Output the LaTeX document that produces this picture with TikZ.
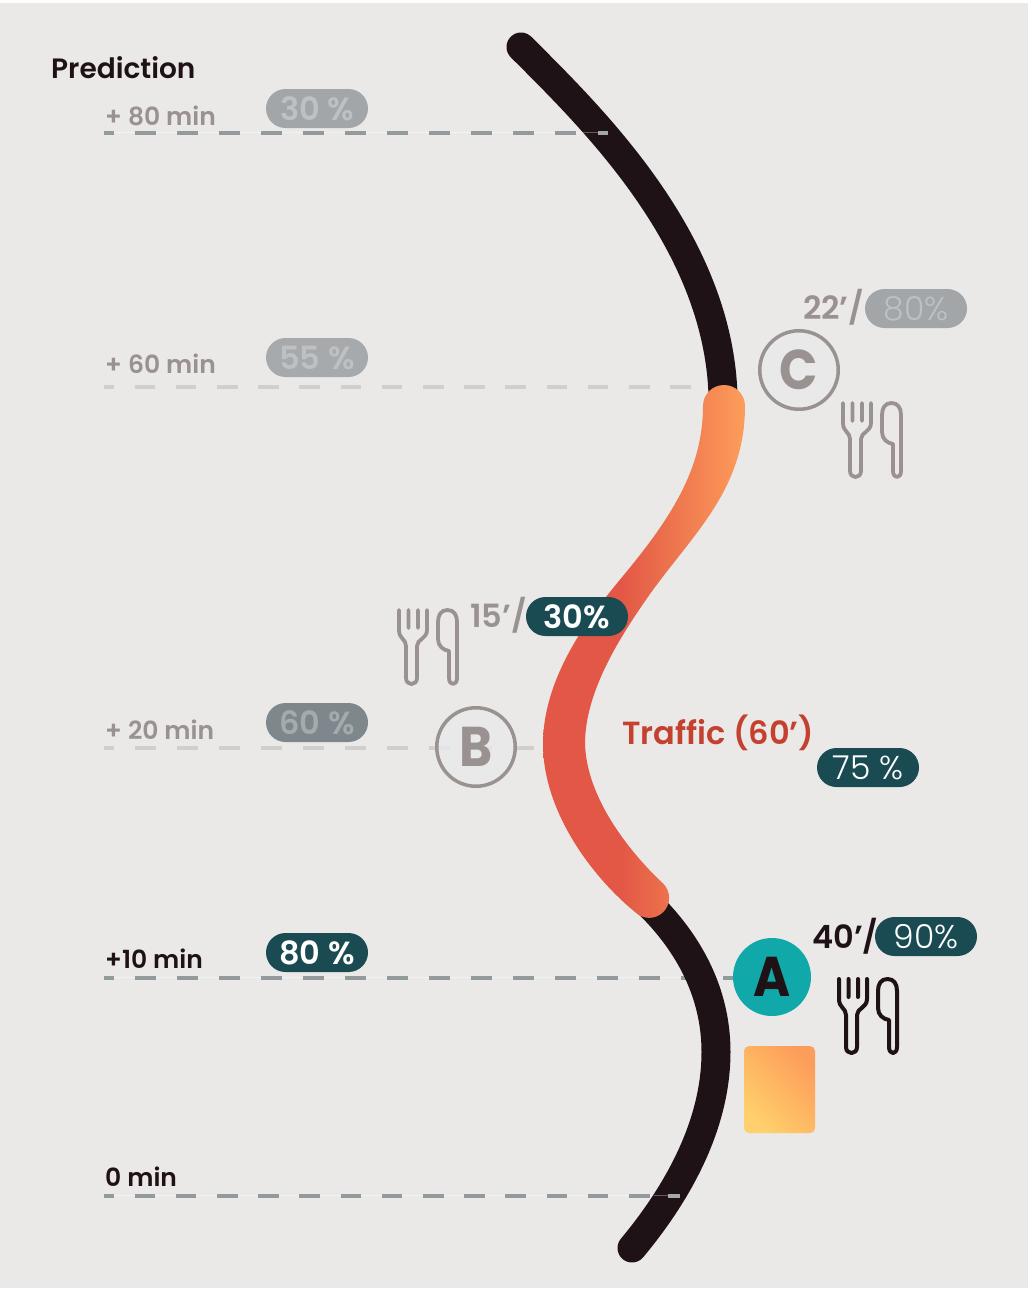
\documentclass[tikz,border=0pt]{standalone}
\usepackage{fontspec}
\setmainfont{Poppins}
\newfontfamily\fmed{Poppins SemiBold}
\newfontfamily\fbold[FakeStretch=0.9]{Poppins Bold}
\newfontfamily\flight{Poppins Light}
\definecolor{bg}{HTML}{EAE9E7}
\definecolor{ink}{HTML}{1F1216}
\definecolor{taupe}{HTML}{9A9290}
\definecolor{teal}{HTML}{1A4A52}
\definecolor{aqua}{HTML}{10A8A8}
\definecolor{dashdark}{HTML}{939A9C}
\definecolor{dashlite}{HTML}{D0CFCD}
\definecolor{pillgrey}{HTML}{A2A6A9}
\definecolor{pillmid}{HTML}{7D878C}
\definecolor{traffic}{HTML}{C4402F}
\definecolor{red1}{HTML}{E25745}
\definecolor{orange1}{HTML}{FD9D5A}
\definecolor{yellow1}{HTML}{FFD06B}
\definecolor{stopfill}{HTML}{E9EAEC}
\pgfdeclarehorizontalshading{redorange}{100bp}{color(0bp)=(red1);color(25bp)=(red1);color(44bp)=(red1);color(75bp)=(orange1);color(100bp)=(orange1)}
\tikzset{
  x=1pt,y=-1pt,
  road/.style={draw=ink,line width=29pt,line cap=round},
  guide/.style={line width=4pt,dash pattern=on 21pt off 21pt,dash phase=11pt},
  guidetight/.style={line width=4pt,dash pattern=on 20.6pt off 20.6pt,dash phase=10.6pt},
  hair/.style={line width=.8pt,draw=white,opacity=.45},
  pill/.style={rounded corners=19.5pt,minimum width=102pt,minimum height=39pt,inner sep=0pt},
  lbl/.style={anchor=base west,inner sep=0pt,font=\fmed\fontsize{25}{25}\selectfont},
  pilltext/.style={font=\fmed\fontsize{32}{33}\selectfont},
  pilllight/.style={font=\flight\fontsize{33}{33}\selectfont},
  stop/.style={circle,minimum size=78.5pt,inner sep=0pt,font=\fbold\fontsize{56}{56}\selectfont},
  hollow/.style={stop,draw=taupe,line width=3.5pt,fill=stopfill,fill opacity=.75,text opacity=1,text=taupe},
  time/.style={anchor=base west,inner sep=0pt,font=\fmed\fontsize{32}{32}\selectfont},
  cutlery/.pic={
    \draw[pic actions,line cap=round,line join=round,fill=none]
      (0,0) -- (0,20) .. controls (0,29) and (7,29) .. (7,36) -- (7,68)
      .. controls (7,76) and (18,76) .. (18,68) -- (18,36)
      .. controls (18,29) and (28,29) .. (28,20) -- (28,0)
      (9.5,0) -- (9.5,18) (19,0) -- (19,18)
      (48.5,0) .. controls (42,0) and (39,5) .. (39,12) -- (39,29)
      .. controls (39,36) and (44,40) .. (50,41) -- (50,68)
      .. controls (50,76) and (58,76) .. (58,68) -- (58,12)
      .. controls (58,5) and (55,0) .. (48.5,0) -- cycle;
  }
}
\begin{document}
\begin{tikzpicture}
\useasboundingbox (0,0) rectangle (1028,1291);
\fill[white] (0,0) rectangle (1028,1291);
\fill[bg] (0,3) rectangle (1028,1288);

% guides
\coordinate (g1a) at (104,132.7); \coordinate (g1b) at (608,132.7);
\coordinate (g2a) at (104,386.7); \coordinate (g2b) at (710,386.7);
\coordinate (g3a) at (104,747.7); \coordinate (g3b) at (535,747.7);
\coordinate (g4a) at (104,977.7); \coordinate (g4b) at (733,977.7);
\coordinate (g5a) at (104,1195.7); \coordinate (g5b) at (680,1195.7);
\draw[hair] (g1a) -- (g1b);
\draw[hair] (g4a) -- (g4b);
\draw[hair] (g5a) -- (g5b);
\draw[guide,dashdark] (g1a) -- (g1b);
\draw[guidetight,dashlite] (g2a) -- (g2b);
\draw[guide,dashlite] (g3a) -- (g3b);
\draw[guide,dashdark] (g4a) -- (g4b);
\draw[guidetight,dashdark] (g5a) -- (g5b);

% road
\draw[road] (521,47) .. controls (592,118) and (718,240) .. (723,395);
\draw[road] (650,905) .. controls (695,950) and (716,1000) .. (716,1052)
  .. controls (716,1130) and (672,1200) .. (632,1248);
\shade[shading=redorange]
  (703,406) .. controls (703,470) and (670,520) .. (618,582)
  .. controls (585,622) and (543,680) .. (543,744)
  .. controls (543,810) and (590,875) .. (635,912)
  arc[start angle=225,end angle=405,radius=20pt]
  .. controls (640,862) and (587,805) .. (585,744)
  .. controls (585,690) and (622,634) .. (650,594)
  .. controls (692,535) and (745,490) .. (745,406)
  arc[start angle=0,end angle=180,radius=21pt] -- cycle;

% guide ends lying on the road
\coordinate (e1) at (598,132.7);
\coordinate (e5) at (668,1195.7);
\coordinate (h1) at (583,132.7);
\coordinate (h5) at (654,1195.7);
\draw[line width=.8pt,draw=white,opacity=.3] (h1) -- (e1);
\draw[line width=.8pt,draw=white,opacity=.3] (h5) -- (e5);
\draw[line width=4pt,draw=dashdark!85!white] (e1) -- (g1b);
\draw[line width=4pt,draw=dashdark!85!white] (e5) -- (g5b);

% left labels
\node[lbl,text=ink,font=\fmed\fontsize{28}{28}\selectfont] (title) at (51,78) {Prediction};
\node[lbl,text=taupe] (t80) at (105,125) {+ 80 min};
\node[lbl,text=taupe] (t60) at (105,373) {+ 60 min};
\node[lbl,text=taupe] (t20) at (105,739) {+ 20 min};
\node[lbl,text=ink] (t10) at (105,968) {+10 min};
\node[lbl,text=ink] (t0) at (105,1186) {0 min};

% pills
\node[pill,pilltext,fill=pillgrey,text=pillgrey!70!white] (p80) at (317,108.5) {30 \%};
\node[pill,pilltext,fill=pillgrey!95!white,text=pillgrey!70!white] (p60) at (317,357.5) {55 \%};
\node[pill,pilltext,fill=pillmid,text=pillmid!70!white] (p20) at (317,722.5) {60 \%};
\node[pill,pilltext,fill=teal,text=white] (p10) at (317,952.5) {80 \%};
\node[pill,pilllight,fill=pillgrey,text=pillgrey!70!white] (pc) at (916,308.5) {80\%};
\node[pill,pilltext,fill=teal,text=white] (pb) at (577,616.5) {30\%};
\node[pill,pilllight,fill=teal,text=white] (pt) at (868,767.5) {75 \%};
\node[pill,pilllight,fill=teal,text=white] (pa) at (926,936.5) {90\%};

% time labels
\node[time,text=taupe] (tc) at (803,319) {22’/};
\node[time,text=taupe] (tb) at (470,627) {15’/};
\node[time,text=ink] (ta) at (812,948) {40’/};
\node[anchor=base west,inner sep=0pt,text=traffic,font=\fmed\fontsize{32}{32}\selectfont] (traffic) at (622,744) {Traffic (60’)};

% stops
\node[hollow] (C) at (799,370) {C};
\node[hollow] (B) at (476,747) {B};
\node[stop,fill=aqua,text=ink,minimum size=78pt] (A) at (772,977) {A};

% cutlery
\pic[draw=taupe,line width=3.8pt] at (843,403) {cutlery};
\pic[draw=taupe,line width=3.8pt] at (399,610) {cutlery};
\pic[draw=ink,line width=4pt] at (839,979) {cutlery};

% heat square
\shade[bottom color=yellow1,top color=orange1,shading angle=-45,rounded corners=5pt]
  (744,1046) rectangle (815,1133);
\end{tikzpicture}
\end{document}
